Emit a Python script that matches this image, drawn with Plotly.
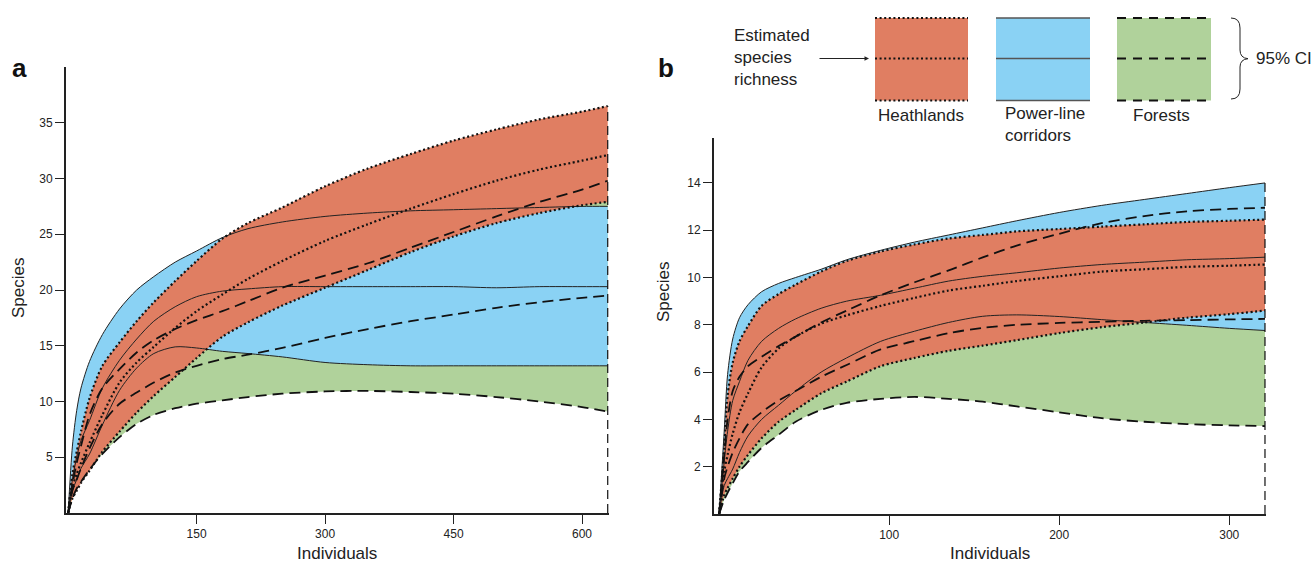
import plotly.graph_objects as go

W, H = 1311, 564

# ---------------- Panel a data ----------------
xa = [0, 5, 10, 15, 25, 40, 60, 80, 100, 125, 150, 180, 210, 250, 300, 350, 400, 450, 500, 550, 600, 630]
heath_a_up = [0, 3.5, 5.5, 7.3, 10.3, 13.2, 15.3, 17.2, 18.9, 20.8, 22.6, 24.6, 26.0, 27.4, 29.3, 30.9, 32.2, 33.4, 34.4, 35.3, 36.0, 36.5]
heath_a_mid = [0, 2.3, 3.5, 4.5, 6.3, 8.8, 11.7, 13.5, 14.9, 16.6, 18.1, 19.6, 21.0, 22.6, 24.4, 25.9, 27.3, 28.6, 29.8, 30.8, 31.6, 32.1]
heath_a_lo = [0, 1.3, 2.0, 2.7, 3.8, 5.5, 7.3, 9.0, 10.5, 12.2, 13.9, 15.8, 17.1, 18.6, 20.2, 21.8, 23.4, 24.8, 26.0, 26.9, 27.6, 27.9]
power_a_up = [0, 6.0, 9.2, 11.2, 13.6, 16.0, 18.3, 20.0, 21.2, 22.5, 23.5, 24.7, 25.5, 26.1, 26.6, 26.9, 27.1, 27.2, 27.3, 27.4, 27.5, 27.5]
power_a_mid = [0, 3.0, 5.0, 6.5, 8.3, 11.2, 13.7, 15.6, 17.2, 18.5, 19.4, 19.9, 20.1, 20.3, 20.3, 20.3, 20.3, 20.3, 20.2, 20.3, 20.3, 20.3]
power_a_lo = [0, 2.0, 3.0, 4.0, 5.3, 7.9, 11.0, 13.0, 14.3, 14.9, 14.8, 14.5, 14.3, 14.0, 13.5, 13.3, 13.2, 13.2, 13.2, 13.2, 13.2, 13.2]
forest_a_up = [0, 2.5, 4.5, 6.0, 8.8, 11.2, 12.9, 14.4, 15.5, 16.5, 17.3, 18.1, 19.0, 20.2, 21.3, 22.4, 23.8, 25.2, 26.6, 27.9, 29.0, 29.8]
forest_a_mid = [0, 2.0, 3.0, 4.0, 5.8, 8.0, 9.8, 10.8, 11.7, 12.6, 13.2, 13.8, 14.2, 14.8, 15.7, 16.5, 17.2, 17.8, 18.4, 18.9, 19.3, 19.5]
forest_a_lo = [0, 1.3, 2.2, 2.8, 3.9, 5.3, 6.8, 8.0, 8.8, 9.4, 9.8, 10.1, 10.4, 10.7, 10.9, 10.95, 10.85, 10.7, 10.4, 10.0, 9.5, 9.1]
xa_ticks = [150, 300, 450, 600]
ya_ticks = [5, 10, 15, 20, 25, 30, 35]

# ---------------- Panel b data ----------------
xb = [0, 3, 5, 8, 12, 17, 25, 35, 45, 60, 75, 95, 115, 135, 155, 175, 200, 225, 250, 275, 300, 321]
heath_b_up = [0, 2.8, 5.0, 6.4, 7.3, 7.95, 8.8, 9.3, 9.7, 10.25, 10.7, 11.1, 11.4, 11.65, 11.8, 11.95, 12.05, 12.15, 12.25, 12.35, 12.4, 12.45]
heath_b_mid = [0, 1.8, 2.5, 3.4, 4.3, 5.1, 6.2, 7.0, 7.5, 8.05, 8.4, 8.8, 9.14, 9.45, 9.65, 9.85, 10.05, 10.25, 10.35, 10.45, 10.5, 10.55]
heath_b_lo = [0, 0.8, 1.1, 1.5, 2.0, 2.5, 3.2, 3.9, 4.4, 5.1, 5.6, 6.25, 6.6, 6.9, 7.12, 7.35, 7.65, 7.9, 8.1, 8.3, 8.45, 8.6]
power_b_up = [0, 3.5, 5.9, 7.4, 8.3, 8.85, 9.4, 9.75, 10.0, 10.35, 10.75, 11.15, 11.5, 11.8, 12.1, 12.4, 12.75, 13.05, 13.3, 13.55, 13.8, 14.0]
power_b_mid = [0, 2.2, 3.5, 4.8, 5.6, 6.5, 7.3, 7.85, 8.25, 8.7, 9.0, 9.25, 9.55, 9.85, 10.05, 10.2, 10.4, 10.55, 10.65, 10.75, 10.8, 10.86]
power_b_lo = [0, 1.2, 1.5, 1.9, 2.6, 3.3, 4.0, 4.6, 5.2, 6.0, 6.6, 7.3, 7.73, 8.1, 8.36, 8.42, 8.35, 8.22, 8.1, 7.98, 7.85, 7.76]
forest_b_up = [0, 2.5, 4.0, 5.2, 5.8, 6.25, 6.65, 7.1, 7.5, 8.1, 8.6, 9.25, 9.8, 10.3, 10.85, 11.35, 11.85, 12.3, 12.6, 12.8, 12.9, 12.95]
forest_b_mid = [0, 1.5, 2.0, 2.6, 3.2, 3.8, 4.3, 4.8, 5.2, 5.8, 6.3, 6.96, 7.31, 7.65, 7.87, 8.0, 8.08, 8.13, 8.17, 8.2, 8.23, 8.25]
forest_b_lo = [0, 0.6, 0.9, 1.3, 1.8, 2.2, 2.8, 3.35, 3.9, 4.4, 4.7, 4.87, 4.95, 4.87, 4.75, 4.55, 4.3, 4.05, 3.9, 3.8, 3.75, 3.72]
xb_ticks = [100, 200, 300]
yb_ticks = [2, 4, 6, 8, 10, 12, 14]

habitats = ["Heathlands", "Power-line corridors", "Forests"]

RED = "#E07E62"
BLUE = "#8AD2F4"
GREEN = "#B0D29B"
DOT = "2px,2.6px"
DASH = "11px,6px"
SMOOTH = 0.8

fig = go.Figure()


def band(x, lo, up, color, xr, yr):
    fig.add_trace(go.Scatter(x=x, y=lo, mode="lines", xaxis=xr, yaxis=yr,
                             line=dict(width=0, shape="spline", smoothing=SMOOTH),
                             hoverinfo="skip", showlegend=False))
    fig.add_trace(go.Scatter(x=x, y=up, mode="lines", xaxis=xr, yaxis=yr,
                             line=dict(width=0, shape="spline", smoothing=SMOOTH),
                             fill="tonexty", fillcolor=color,
                             hoverinfo="skip", showlegend=False))


def curve(x, y, style, xr, yr):
    if style == "dot":
        ln = dict(color="#111", width=2.2, dash=DOT)
    elif style == "dash":
        ln = dict(color="#111", width=1.8, dash=DASH)
    else:
        ln = dict(color="#222", width=1.0)
    ln.update(shape="spline", smoothing=SMOOTH)
    fig.add_trace(go.Scatter(x=x, y=y, mode="lines", xaxis=xr, yaxis=yr, line=ln,
                             hoverinfo="skip", showlegend=False))


panels = [
    (xa, (heath_a_lo, heath_a_mid, heath_a_up), (power_a_lo, power_a_mid, power_a_up),
     (forest_a_lo, forest_a_mid, forest_a_up), "x", "y"),
    (xb, (heath_b_lo, heath_b_mid, heath_b_up), (power_b_lo, power_b_mid, power_b_up),
     (forest_b_lo, forest_b_mid, forest_b_up), "x2", "y2"),
]

for x, hv, pv, fv, xr, yr in panels:
    band(x, fv[0], fv[2], GREEN, xr, yr)
    band(x, pv[0], pv[2], BLUE, xr, yr)
    band(x, hv[0], hv[2], RED, xr, yr)
    for s in pv:
        curve(x, s, "solid", xr, yr)
    for s in fv:
        curve(x, s, "dash", xr, yr)
    for s in hv:
        curve(x, s, "dot", xr, yr)
    top = max(hv[2][-1], pv[2][-1], fv[2][-1])
    fig.add_trace(go.Scatter(x=[x[-1], x[-1]], y=[0, top], mode="lines", xaxis=xr, yaxis=yr,
                             line=dict(color="#111", width=1.2, dash="9px,5px"),
                             hoverinfo="skip", showlegend=False))

FONT = "Liberation Sans, Arial, Helvetica, sans-serif"
axis_common = dict(showline=True, linecolor="#222", linewidth=2, ticks="outside", ticklen=9,
                   tickwidth=1.3, tickcolor="#222", showgrid=False, zeroline=False,
                   tickfont=dict(size=12, color="#222", family=FONT), fixedrange=True)

fig.update_layout(
    width=W, height=H, margin=dict(l=0, r=0, t=0, b=0),
    paper_bgcolor="white", plot_bgcolor="white", showlegend=False,
    font=dict(family=FONT, color="#222"),
    xaxis=dict(domain=[66 / W, 609 / W], anchor="y", range=[-2.5, 631.5], tickvals=xa_ticks, **axis_common),
    yaxis=dict(domain=[(H - 513) / H, (H - 67) / H], anchor="x", range=[0, 40], tickvals=ya_ticks, **axis_common),
    xaxis2=dict(domain=[714 / W, 1266 / W], anchor="y2", range=[-3, 321.6], tickvals=xb_ticks, **axis_common),
    yaxis2=dict(domain=[(H - 514) / H, (H - 138) / H], anchor="x2", range=[0, 15.9], tickvals=yb_ticks, **axis_common),
)


def px(v):
    return v / W


def py(v):
    return 1 - v / H


ann = []
shapes = []


def text(x, y, s, size=17, xanchor="center", bold=False, angle=0, align="center"):
    ann.append(dict(x=px(x), y=py(y), xref="paper", yref="paper", text=s, showarrow=False,
                    xanchor=xanchor, yanchor="middle", textangle=angle, align=align,
                    font=dict(size=size, family=FONT, color="#111" if bold else "#222")))


# panel letters
text(19, 68, "<b>a</b>", size=26, bold=True)
text(666, 68, "<b>b</b>", size=26, bold=True)
# axis titles
text(18, 288, "Species", angle=-90)
text(663, 292, "Species", angle=-90)
text(337, 553, "Individuals")
text(990, 553, "Individuals")

# ---------------- legend ----------------
leg = [(875, 968, RED, dict(color="#111", width=2.2, dash=DOT)),
       (996, 1090, BLUE, dict(color="#555", width=1.5)),
       (1117, 1211, GREEN, dict(color="#111", width=2, dash="9px,7px"))]
ytop, ymid, ybot = 18, 58.5, 100.5
for x0, x1, col, ln in leg:
    shapes.append(dict(type="rect", xref="paper", yref="paper", x0=px(x0), x1=px(x1),
                       y0=py(ybot), y1=py(ytop), fillcolor=col, line=dict(width=0), layer="above"))
    for yy in (ytop, ymid, ybot):
        shapes.append(dict(type="line", xref="paper", yref="paper", x0=px(x0), x1=px(x1),
                           y0=py(yy), y1=py(yy), line=ln, layer="above"))

text(921, 115, habitats[0])
ann.append(dict(x=px(1003), y=py(125), xref="paper", yref="paper", text="Power-line<br>corridors",
                showarrow=False, xanchor="left", yanchor="middle", align="left",
                font=dict(size=17, family=FONT, color="#222")))
text(1161, 115, habitats[2])
ann.append(dict(x=px(732), y=py(57), xref="paper", yref="paper",
                text="Estimated<br>species<br>richness", showarrow=False, xanchor="left",
                yanchor="middle", align="left", font=dict(size=17, family=FONT, color="#222")))
text(1254, 59, "95% CI", xanchor="left")

# arrow
ann.append(dict(x=px(869), y=py(58.5), xref="paper", yref="paper", text="", showarrow=True,
                ax=-51, ay=0, axref="pixel", ayref="pixel", arrowhead=2, arrowsize=0.9,
                arrowwidth=1, arrowcolor="#222"))

# brace
pts = "M {a} {b} Q {c} {b} {c} {d} L {c} {e} Q {c} {f} {g} {f2} Q {c} {f3} {c} {h} L {c} {i} Q {c} {j} {a} {j}"
bx0, bx1, btip = 1231, 1240, 1248
path = pts.format(a=px(bx0), b=py(18), c=px(bx1), d=py(28), e=py(50), f=py(58), g=px(btip),
                  f2=py(58.7), f3=py(59.4), h=py(67), i=py(89), j=py(99))
shapes.append(dict(type="path", xref="paper", yref="paper", path=path,
                   line=dict(color="#222", width=1), layer="above"))

fig.update_layout(annotations=ann, shapes=shapes)

fig.write_html("out.html", config={"displayModeBar": False},
               post_script="document.body.style.margin='0';")
